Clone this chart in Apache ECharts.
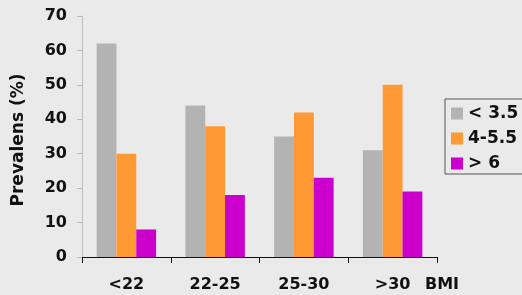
<!DOCTYPE html>
<html><head><meta charset="utf-8">
<script src="https://cdn.jsdelivr.net/npm/echarts@6/dist/echarts.min.js"></script>
<style>html,body{margin:0;padding:0;background:#eaeaea}#c{width:522px;height:295px}</style>
</head><body><div id="c"></div>
<script>
const categories = ['<22', '22-25', '25-30', '>30'];
const seriesNames = ['< 3.5', '4-5.5', '> 6'];
const lowValues = [62, 44, 35, 31];
const midValues = [30, 38, 42, 50];
const highValues = [8, 18, 23, 19];
const yTicks = [0, 10, 20, 30, 40, 50, 60, 70];
const yTitle = 'Prevalens (%)';
const xUnit = 'BMI';
const colors = ['#b3b3b3', '#ff9933', '#cc00cc'];
const font = 'DejaVu Sans';

const chart = echarts.init(document.getElementById('c'));
const mk = (name, data, color) => ({
  name, type: 'bar', data, barGap: '0%', barCategoryGap: '33%',
  itemStyle: { color }, animation: false
});
chart.setOption({
  backgroundColor: '#eaeaea',
  animation: false,
  grid: { left: 82, right: 85, top: 16, bottom: 38 },
  legend: {
    orient: 'vertical', left: 445, top: 99,
    data: seriesNames,
    itemWidth: 12, itemHeight: 12, itemGap: 8,
    padding: [6, 6, 2, 6],
    borderColor: '#555', borderWidth: 1,
    icon: 'rect',
    textStyle: { fontFamily: font, fontWeight: 'bold', fontSize: 17, color: '#111' }
  },
  xAxis: {
    type: 'category', data: categories,
    axisLine: { lineStyle: { color: '#111', width: 1 } },
    axisTick: { show: true, length: 6, lineStyle: { color: '#111' } },
    axisLabel: { margin: 20, fontFamily: font, fontWeight: 'bold', fontSize: 16, color: '#111' }
  },
  yAxis: {
    type: 'value', min: yTicks[0], max: yTicks[yTicks.length - 1], interval: 10,
    axisLine: { show: true, lineStyle: { color: '#bbbbbb' } },
    axisTick: { show: true, length: 5, lineStyle: { color: '#bbbbbb' } },
    splitLine: { show: false },
    axisLabel: { margin: 15, fontFamily: font, fontWeight: 'bold', fontSize: 16, color: '#111' }
  },
  graphic: [{
    type: 'text', left: 425, top: 277,
    style: { text: xUnit, fontFamily: font, fontWeight: 'bold', fontSize: 16, fill: '#111' }
  }, {
    type: 'text', x: 19, y: 140, rotation: Math.PI / 2,
    style: { text: yTitle, fontFamily: font, fontWeight: 'bold', fontSize: 17, fill: '#111',
             align: 'center', verticalAlign: 'middle' }
  }],
  series: [
    mk(seriesNames[0], lowValues, colors[0]),
    mk(seriesNames[1], midValues, colors[1]),
    mk(seriesNames[2], highValues, colors[2])
  ]
});
</script></body></html>
